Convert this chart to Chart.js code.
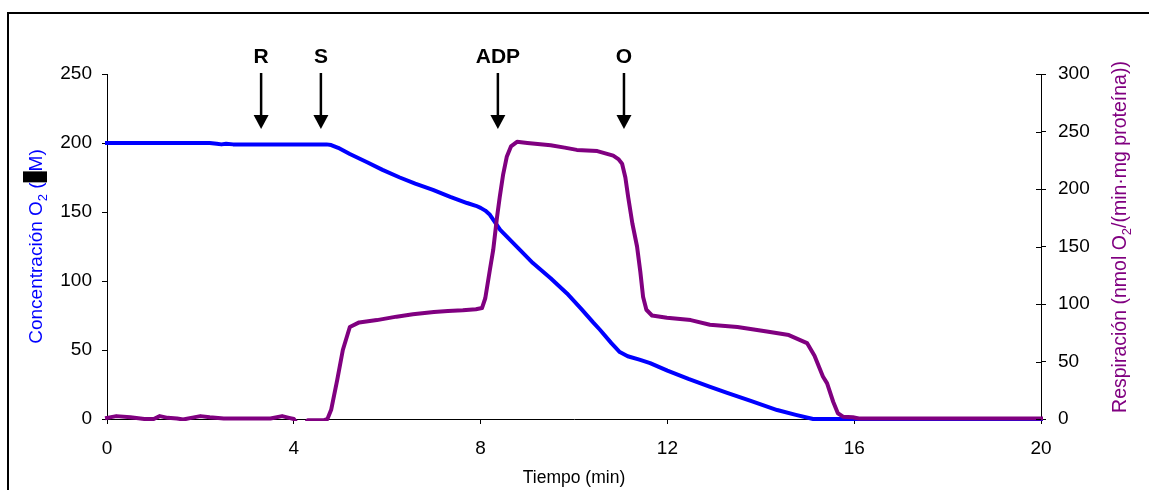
<!DOCTYPE html>
<html>
<head>
<meta charset="utf-8">
<script src="https://cdn.jsdelivr.net/npm/chart.js@4.4.0/dist/chart.umd.min.js"></script>
<style>
  html, body { margin: 0; padding: 0; background: #fff; }
  #wrap { width: 1149px; height: 490px; position: relative; }
  canvas { display: block; }
</style>
</head>
<body>
<div id="wrap"><canvas id="c" width="1149" height="490"></canvas></div>
<script>
// Oxygen concentration (µM) in the chamber versus time (min)
const tiempoO2 = [0, 2.2, 2.35, 2.45, 2.55, 2.7, 4.70, 4.80, 4.95, 5.20, 5.57, 5.90, 6.27, 6.60, 6.98, 7.35, 7.71, 7.90, 8.00, 8.10, 8.20, 8.42, 8.80, 9.12, 9.50, 9.85, 10.15, 10.41, 10.56, 10.80, 10.98, 11.15, 11.40, 11.63, 12.00, 12.45, 12.90, 13.28, 13.80, 14.35, 14.75, 15.12, 15.5, 20];
const concO2 = [200, 200, 199.5, 199, 199.5, 199, 199, 198.5, 196.5, 192, 186, 180.5, 175, 170.5, 166, 161, 156.5, 154.5, 153, 151, 148, 137, 124, 113, 102, 91, 80, 70, 64.5, 55, 48.5, 45.5, 43, 40.5, 35, 29, 23.5, 19, 13, 6.5, 3, 0, 0, 0];

// Respiration rate (nmol O2 / (min·mg protein)) versus time (min)
const tiempoResp = [0, 0.2, 0.5, 0.8, 1.0, 1.13, 1.3, 1.5, 1.63, 1.8, 2.0, 2.2, 2.5, 3.0, 3.5, 3.75, 3.9, 4.0, 4.07, 4.15, 4.25, 4.3, 4.4, 4.65, 4.72, 4.8, 4.93, 5.05, 5.2, 5.4, 5.78, 6.2, 6.55, 7.0, 7.3, 7.62, 7.9, 8.03, 8.1, 8.2, 8.27, 8.35, 8.41, 8.48, 8.56, 8.65, 8.78, 9.0, 9.5, 9.8, 10.06, 10.5, 10.84, 10.95, 11.03, 11.1, 11.16, 11.25, 11.35, 11.42, 11.48, 11.55, 11.67, 11.99, 12.5, 12.91, 13.5, 14.13, 14.6, 14.99, 15.15, 15.33, 15.42, 15.55, 15.65, 15.76, 15.97, 16.1, 20];
const respiracion = [1, 2.5, 1.5, 0, 0, 2.5, 1, 0.5, -0.5, 1, 2.5, 1.5, 0.5, 0.5, 0.5, 2.5, 1, 0, -4, -4.5, -4, -1, -1, -1, 0, 8, 34, 60, 80, 84, 86, 89, 91, 93, 94, 94.5, 95.5, 96.5, 105, 130, 147, 175, 193, 212, 228, 237, 241, 240, 238, 236, 234, 233, 229, 226, 222, 210, 193, 170, 150, 128, 106, 95, 90, 88, 86, 82, 80, 76, 73, 66, 55, 37, 31, 15, 5, 2, 1.5, 0.5, 0.5];

// Axis tick values
const xTicks = [0, 4, 8, 12, 16, 20];
const yTicksO2 = [0, 50, 100, 150, 200, 250];
const yTicksResp = [0, 50, 100, 150, 200, 250, 300];

// Additions marked with arrows (label, time in min)
const eventos = ['R', 'S', 'ADP', 'O'];
const tiempoEventos = [3.3, 4.58, 8.37, 11.07];

const FONT = '"Liberation Sans", Arial, sans-serif';
const AZUL = '#0000FF';
const MORADO = '#800080';

function setTicks(values) {
  return function (scale) { scale.ticks = values.map(v => ({ value: v })); };
}

// Rotated axis title with a subscript; parts = [{t, sub, box}]
function drawVerticalTitle(ctx, parts, baseX, centerY, color, size) {
  const mainFont = size + 'px ' + FONT;
  const subFont = Math.round(size * 0.68) + 'px ' + FONT;
  ctx.save();
  let total = 0;
  const widths = parts.map(p => {
    ctx.font = p.sub ? subFont : mainFont;
    const w = ctx.measureText(p.t).width;
    total += w;
    return w;
  });
  ctx.translate(baseX, centerY);
  ctx.rotate(-Math.PI / 2);
  ctx.textBaseline = 'alphabetic';
  ctx.textAlign = 'left';
  let x = -total / 2;
  parts.forEach((p, i) => {
    ctx.font = p.sub ? subFont : mainFont;
    ctx.fillStyle = color;
    ctx.fillText(p.t, x, p.sub ? 5 : 0);
    if (p.box) {
      ctx.fillStyle = '#000';
      ctx.fillRect(x, -19, widths[i], 24);
    }
    x += widths[i];
  });
  ctx.restore();
}

const decor = {
  id: 'decor',
  afterDraw(chart) {
    const ctx = chart.ctx;
    const { x, y2 } = chart.scales;
    const area = chart.chartArea;

    ctx.save();
    // outer frame (top and left edges)
    ctx.strokeStyle = '#000';
    ctx.lineWidth = 2;
    ctx.beginPath();
    ctx.moveTo(8, 490);
    ctx.lineTo(8, 13);
    ctx.lineTo(1149, 13);
    ctx.stroke();

    // inner half of the right-axis tick marks
    ctx.lineWidth = 1;
    ctx.strokeStyle = '#000';
    yTicksResp.forEach(v => {
      const py = Math.round(y2.getPixelForValue(v)) + 0.5;
      ctx.beginPath();
      ctx.moveTo(area.right - 5, py);
      ctx.lineTo(area.right, py);
      ctx.stroke();
    });

    // axis titles
    ctx.font = '17.5px ' + FONT;
    ctx.fillStyle = '#000';
    ctx.textAlign = 'center';
    ctx.textBaseline = 'alphabetic';
    ctx.fillText('Tiempo (min)', (area.left + area.right) / 2, 483);

    drawVerticalTitle(ctx, [
      { t: 'Concentración O' }, { t: '2', sub: true }, { t: ' (' }, { t: 'µ', box: true }, { t: 'M)' }
    ], 42, (area.top + area.bottom) / 2, AZUL, 19);

    drawVerticalTitle(ctx, [
      { t: 'Respiración (nmol O' }, { t: '2', sub: true }, { t: '/(min·mg proteína))' }
    ], 1126, 237, MORADO, 19.5);

    // event arrows
    ctx.fillStyle = '#000';
    ctx.strokeStyle = '#000';
    ctx.font = 'bold 21px ' + FONT;
    ctx.textAlign = 'center';
    eventos.forEach((lab, i) => {
      const px = x.getPixelForValue(tiempoEventos[i]);
      ctx.fillText(lab, px, 63);
      ctx.lineWidth = 2.5;
      ctx.beginPath();
      ctx.moveTo(px, 73);
      ctx.lineTo(px, 117);
      ctx.stroke();
      ctx.beginPath();
      ctx.moveTo(px - 7.5, 115);
      ctx.lineTo(px + 7.5, 115);
      ctx.lineTo(px, 129);
      ctx.closePath();
      ctx.fill();
    });
    ctx.restore();
  }
};

const axisGrid = { display: true, drawOnChartArea: false, drawTicks: true, tickLength: 5, color: '#000', lineWidth: 1 };
const axisBorder = { display: true, color: '#000', width: 1 };
const tickFont = { family: FONT, size: 19 };
const lineClip = { left: false, top: false, right: false, bottom: 2 };

new Chart(document.getElementById('c'), {
  type: 'line',
  data: {
    datasets: [
      {
        label: 'Respiración',
        data: tiempoResp.map((t, i) => ({ x: t, y: respiracion[i] })),
        yAxisID: 'y2',
        borderColor: MORADO,
        borderWidth: 4,
        pointRadius: 0,
        tension: 0,
        borderJoinStyle: 'round',
        borderCapStyle: 'square',
        clip: lineClip
      },
      {
        label: 'Concentración O2',
        data: tiempoO2.map((t, i) => ({ x: t, y: concO2[i] })),
        yAxisID: 'y',
        borderColor: AZUL,
        borderWidth: 4,
        pointRadius: 0,
        tension: 0,
        borderJoinStyle: 'round',
        borderCapStyle: 'square',
        clip: lineClip
      }
    ]
  },
  options: {
    responsive: false,
    devicePixelRatio: 1,
    animation: false,
    layout: { padding: { top: 74, left: 0, right: 0, bottom: 0 } },
    plugins: { legend: { display: false }, tooltip: { enabled: false } },
    scales: {
      x: {
        type: 'linear', min: 0, max: 20,
        afterBuildTicks: setTicks(xTicks),
        afterFit(s) { s.height = 71; },
        grid: axisGrid, border: axisBorder,
        ticks: { font: tickFont, color: '#000', padding: 13, maxRotation: 0 }
      },
      y: {
        position: 'left', min: 0, max: 250,
        afterBuildTicks: setTicks(yTicksO2),
        afterFit(s) { s.width = 107; },
        grid: axisGrid, border: axisBorder,
        ticks: { font: tickFont, color: '#000', padding: 10 }
      },
      y2: {
        position: 'right', min: 0, max: 300,
        afterBuildTicks: setTicks(yTicksResp),
        afterFit(s) { s.width = 108; },
        grid: axisGrid, border: axisBorder,
        ticks: { font: tickFont, color: '#000', padding: 12 }
      }
    }
  },
  plugins: [decor]
});
</script>
</body>
</html>
